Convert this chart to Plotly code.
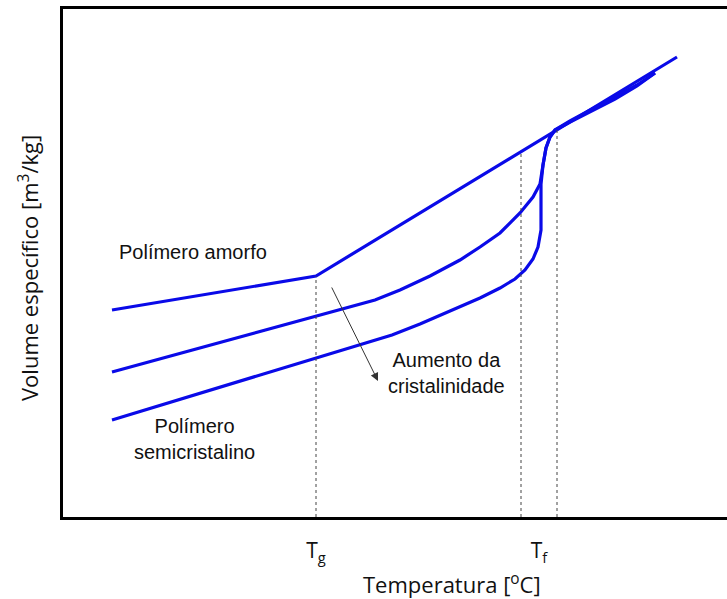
import plotly.graph_objects as go

H = 599  # used to convert read pixel rows into upward values
# Temperature (arbitrary units) and specific volume (arbitrary units)
amorfo_x = [112, 316, 677]
amorfo_y = [H - 310, H - 276, H - 57]

medio_x = [112, 375, 400, 430, 460, 480, 500, 520, 533, 540, 543, 546, 550, 555,
           570, 590, 615, 637, 655]
medio_y = [H - 372, H - 300, H - 290, H - 276, H - 260, H - 247, H - 233, H - 213, H - 197,
           H - 184, H - 165, H - 148, H - 137, H - 130, H - 122, H - 112, H - 99, H - 86, H - 73]

semi_x = [112, 392, 420, 450, 480, 500, 515, 525, 533, 538, 541, 541, 541, 543, 546, 550,
          555, 570, 590, 615, 637, 655]
semi_y = [H - 420, H - 335, H - 324, H - 311, H - 298, H - 288, H - 279, H - 270, H - 259,
          H - 247, H - 230, H - 205, H - 184, H - 165, H - 148, H - 137, H - 130, H - 121,
          H - 110, H - 97, H - 85, H - 73]

Tg = 316
Tf1, Tf2 = 521, 557
Tf_label = 539
ymin, ymax = H - 517, H - 9

fig = go.Figure()
blue = "#0a0ae8"
for xs, ys in [(amorfo_x, amorfo_y), (medio_x, medio_y), (semi_x, semi_y)]:
    fig.add_trace(go.Scatter(x=xs, y=ys, mode="lines",
                             line=dict(color=blue, width=3.2),
                             showlegend=False, hoverinfo="skip"))

# dashed guide lines
for xv, ytop in [(Tg, H - 276), (Tf1, H - 152), (Tf2, H - 130)]:
    fig.add_trace(go.Scatter(x=[xv, xv], y=[ymin, ytop], mode="lines",
                             line=dict(color="#444444", width=1, dash="dot"),
                             showlegend=False, hoverinfo="skip"))

font_a = "Liberation Sans, Arial, sans-serif"
font_c = "Open Sans, sans-serif"

fig.add_annotation(x=378, y=H - 381, ax=331, ay=H - 286, xref="x", yref="y",
                   axref="x", ayref="y", showarrow=True, arrowhead=2, arrowsize=1.6,
                   arrowwidth=1, arrowcolor="#333333", text="")

notes = [
    (193, H - 252, "Polímero amorfo"),
    (446, H - 373, "Aumento da<br>cristalinidade"),
    (194, H - 439, "Polímero<br>semicristalino"),
]
for x, y, t in notes:
    fig.add_annotation(x=x, y=y, xref="x", yref="y", text=t, showarrow=False,
                       font=dict(family=font_a, size=20, color="#111111"), align="center")

# axis titles placed as in the reference
fig.add_annotation(xref="paper", yref="paper", x=(452 - 63) / 664, y=(599 - 583 - 82) / 508,
                   xanchor="center", yanchor="middle", showarrow=False,
                   text="Temperatura [<sup>o</sup>C]",
                   font=dict(family=font_c, size=22, color="#111111"))
fig.add_annotation(xref="paper", yref="paper", x=(28 - 63) / 664, y=(599 - 268 - 82) / 508,
                   xanchor="center", yanchor="middle", showarrow=False, textangle=-90,
                   text="Volume específico [m<sup>3</sup>/kg]",
                   font=dict(family=font_c, size=22, color="#111111"))

fig.update_layout(
    width=727, height=599,
    margin=dict(l=63, r=0, t=9, b=82),
    paper_bgcolor="white", plot_bgcolor="white",
    xaxis=dict(range=[63, 727], showgrid=False, zeroline=False, showline=True,
               linecolor="black", linewidth=3, mirror=True,
               tickvals=[Tg, Tf_label], ticktext=["T<sub>g</sub>", "T<sub>f</sub>"],
               ticks="", ticklabelstandoff=13,
               tickfont=dict(family=font_c, size=21, color="#111111")),
    yaxis=dict(range=[ymin, ymax], showgrid=False, zeroline=False, showline=True,
               linecolor="black", linewidth=3, showticklabels=False, ticks=""),
)

fig.write_html("out.html")
